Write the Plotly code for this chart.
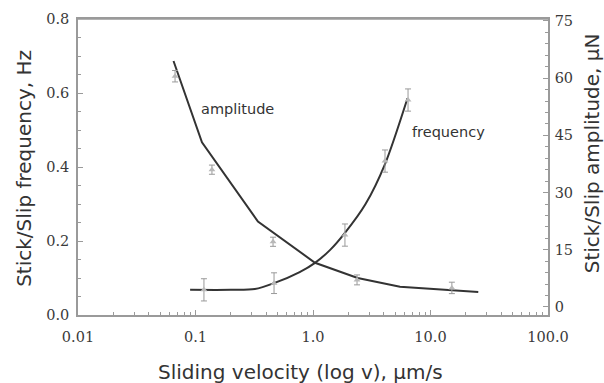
import plotly.graph_objects as go

# Stick/slip frequency (left axis, Hz) — measured points with error bars
freq_v = [0.118, 0.466, 1.87, 4.1, 6.44]
freq_hz = [0.068, 0.086, 0.216, 0.416, 0.581]
freq_err = [0.030, 0.028, 0.030, 0.030, 0.030]

# Stick/slip frequency fitted curve
freq_fit_v = [0.09, 0.20, 0.32, 0.466, 0.77, 1.04, 1.40, 1.87, 2.8, 4.1, 6.37]
freq_fit_hz = [0.068, 0.068, 0.070, 0.086, 0.116, 0.141, 0.176, 0.222, 0.300, 0.408, 0.586]

# Stick/slip amplitude (right axis, uN) — measured points with error bars
amp_v = [0.067, 0.138, 0.457, 2.37, 15.2]
amp_un = [60.5, 36.0, 17.1, 7.1, 5.0]
amp_err = [1.5, 1.2, 1.2, 1.3, 1.5]

# Stick/slip amplitude fitted curve
amp_fit_v = [0.065, 0.1135, 0.34, 1.04, 2.4, 5.5, 25.5]
amp_fit_un = [64.5, 43.2, 22.4, 11.6, 7.6, 5.3, 3.9]

x_tickvals = [0.01, 0.1, 1, 10, 100]
x_ticktext = ["0.01", "0.1", "1.0", "10.0", "100.0"]
y_tickvals = [0.0, 0.2, 0.4, 0.6, 0.8]
y_ticktext = ["0.0", "0.2", "0.4", "0.6", "0.8"]
y2_tickvals = [0, 15, 30, 45, 60, 75]

line_col = "#333333"
mark_col = "#b8b8b8"
err_col = "#999999"
axis_col = "#9a9a9a"
tick_font = dict(family="DejaVu Serif", size=14.5, color="#3a3a3a")
title_font = dict(family="DejaVu Sans", size=20, color="#333333")
label_font = dict(family="DejaVu Sans", size=14.5, color="#333333")

fig = go.Figure()

fig.add_trace(go.Scatter(
    x=amp_fit_v, y=amp_fit_un, mode="lines", yaxis="y2",
    line=dict(color=line_col, width=2), showlegend=False, hoverinfo="skip"))
fig.add_trace(go.Scatter(
    x=amp_v, y=amp_un, mode="markers", yaxis="y2",
    marker=dict(symbol="triangle-up", size=6, color=mark_col),
    error_y=dict(type="data", array=amp_err, color=err_col, thickness=1, width=3),
    showlegend=False))

fig.add_trace(go.Scatter(
    x=freq_fit_v, y=freq_fit_hz, mode="lines",
    line=dict(color=line_col, width=2, shape="spline", smoothing=0.8),
    showlegend=False, hoverinfo="skip"))
fig.add_trace(go.Scatter(
    x=freq_v, y=freq_hz, mode="markers",
    marker=dict(symbol="triangle-up", size=6, color=mark_col),
    error_y=dict(type="data", array=freq_err, color=err_col, thickness=1, width=3),
    showlegend=False))

fig.update_layout(
    width=604, height=383,
    margin=dict(l=78, r=56, t=19, b=68),
    paper_bgcolor="white", plot_bgcolor="white",
    xaxis=dict(
        type="log", range=[-2, 2],
        tickvals=x_tickvals, ticktext=x_ticktext,
        tickfont=tick_font, ticks="inside", ticklen=5, tickcolor=axis_col,
        ticklabelstandoff=8,
        showline=True, linecolor=axis_col, linewidth=1.5, mirror=True,
        showgrid=False, zeroline=False,
        minor=dict(ticks="inside", ticklen=3, tickcolor=axis_col, dtick="D1", showgrid=False),
    ),
    yaxis=dict(
        range=[0, 0.8],
        tickvals=y_tickvals, ticktext=y_ticktext,
        tickfont=tick_font, ticks="inside", ticklen=5, tickcolor=axis_col,
        ticklabelstandoff=4,
        showline=True, linecolor=axis_col, linewidth=1.5,
        showgrid=False, zeroline=False,
        minor=dict(ticks="inside", ticklen=3, tickcolor=axis_col, dtick=0.05, showgrid=False),
    ),
    yaxis2=dict(
        range=[-2.1, 75.5], overlaying="y", side="right",
        tickvals=y2_tickvals,
        tickfont=tick_font, ticks="inside", ticklen=5, tickcolor=axis_col,
        ticklabelstandoff=2,
        showline=True, linecolor=axis_col, linewidth=1.5,
        showgrid=False, zeroline=False,
        minor=dict(ticks="inside", ticklen=3, tickcolor=axis_col, dtick=3, showgrid=False),
    ),
    shapes=[
        # top frame edge
        dict(type="line", xref="paper", yref="paper", x0=0, x1=1, y0=1, y1=1,
             line=dict(color=axis_col, width=1.5)),
    ],
    annotations=[
        dict(text="Stick/Slip frequency, Hz", xref="paper", yref="paper",
             x=-0.115, y=0.497, xanchor="center", yanchor="middle",
             textangle=-90, showarrow=False, font=title_font),
        dict(text="Stick/Slip amplitude, \u00b5N", xref="paper", yref="paper",
             x=1.094, y=0.547, xanchor="center", yanchor="middle",
             textangle=-90, showarrow=False, font=title_font),
        dict(text="Sliding velocity (log v), \u00b5m/s", xref="paper", yref="paper",
             x=0.474, y=-0.193, xanchor="center", yanchor="middle",
             showarrow=False, font=title_font),
        dict(text="amplitude", xref="paper", yref="paper",
             x=0.340, y=0.696, xanchor="center", yanchor="middle",
             showarrow=False, font=label_font),
        dict(text="frequency", xref="paper", yref="paper",
             x=0.789, y=0.618, xanchor="center", yanchor="middle",
             showarrow=False, font=label_font),
    ],
)

fig.write_html("out.html")
